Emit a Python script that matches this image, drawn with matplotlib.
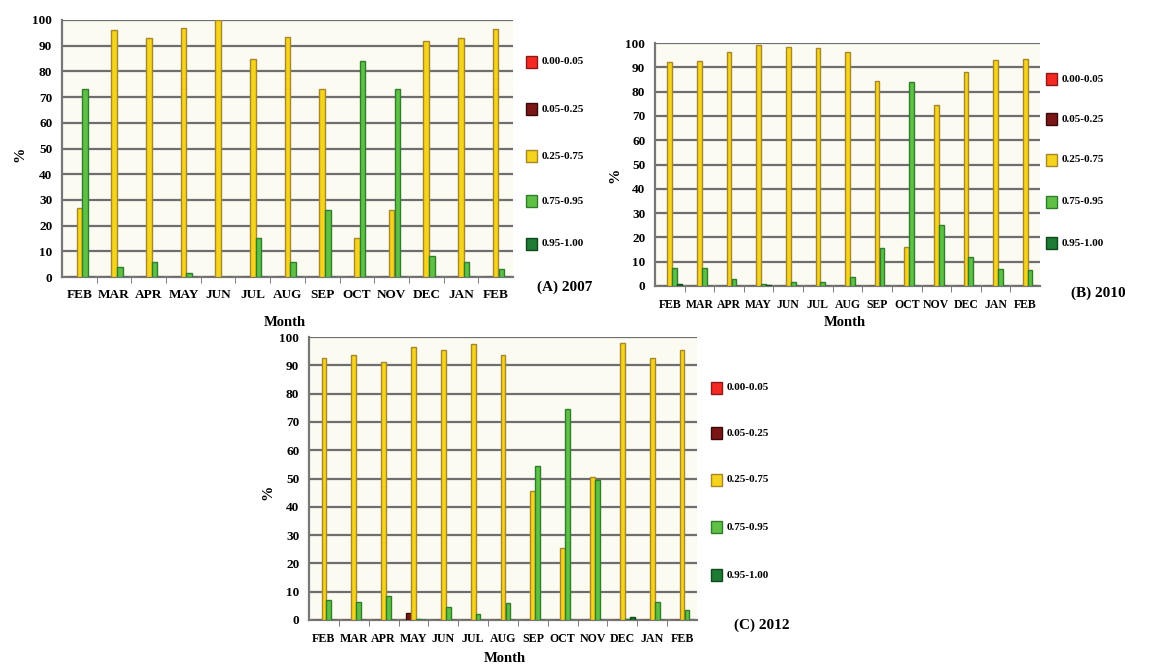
import matplotlib
matplotlib.use("Agg")
import matplotlib.pyplot as plt
import numpy as np

plt.rcParams['font.family'] = ['Liberation Serif', 'DejaVu Serif']
plt.rcParams['font.weight'] = 'bold'

months = ['FEB', 'MAR', 'APR', 'MAY', 'JUN', 'JUL', 'AUG', 'SEP', 'OCT', 'NOV', 'DEC', 'JAN', 'FEB']
classes = ['0.00-0.05', '0.05-0.25', '0.25-0.75', '0.75-0.95', '0.95-1.00']

# (A) 2007
a_red = [0] * 13
a_dred = [0] * 13
a_yel = [27, 96, 93, 97, 100, 85, 93.5, 73, 15, 26, 92, 93, 96.5]
a_lgr = [73, 4, 6, 1.5, 0, 15, 6, 26, 84, 73, 8, 6, 3]
a_dgr = [0] * 13

# (B) 2010
b_red = [0] * 13
b_dred = [0] * 13
b_yel = [92, 92.5, 96.5, 99, 98.5, 98, 96.5, 84.5, 16, 74.5, 88, 93, 93.5]
b_lgr = [7.5, 7.5, 3, 1, 1.5, 1.8, 3.5, 15.5, 84, 25, 12, 7, 6.5]
b_dgr = [1, 0, 0, 0.5, 0, 0, 0, 0, 0, 0, 0, 0, 0]

# (C) 2012
c_red = [0] * 13
c_dred = [0, 0, 0, 2.5, 0, 0, 0, 0, 0, 0, 0, 0, 0]
c_yel = [92.5, 93.5, 91, 96.5, 95.5, 97.5, 93.5, 45.5, 25.5, 50.5, 98, 92.5, 95.5]
c_lgr = [7, 6.5, 8.5, 0.5, 4.5, 2, 6, 54.5, 74.5, 49.5, 0.5, 6.5, 3.5]
c_dgr = [0, 0, 0, 0, 0, 0, 0, 0, 0, 0, 1, 0, 0]

faces = ['#f42a22', '#7a1616', '#f4d41c', '#5fc045', '#1f7a34']
edges = ['#8a1a1a', '#3a0a0a', '#a8862a', '#2f7f2a', '#0f4a1c']

W, H = 1169, 666
fig = plt.figure(figsize=(W / 100, H / 100), dpi=100)
fig.patch.set_facecolor('white')


def fx(px):
    return px / W


def fy(py):
    return 1 - py / H


def panel(box, series, title, month_xy, pct_xy, leg_x, leg_ys, title_xy, tfs):
    x0, x1, ytop, ybot = box
    ax = fig.add_axes([fx(x0), fy(ybot), fx(x1 - x0), (ybot - ytop) / H])
    ax.set_facecolor('#fcfbf2')
    x = np.arange(len(months))
    for i, vals in enumerate(series):
        ax.bar(x + (i - 2) * 0.165, vals, width=0.16, color=faces[i],
               edgecolor=edges[i], linewidth=1.0, zorder=3)
    ax.set_xlim(-0.5, len(months) - 0.5)
    ax.set_ylim(0, 100)
    ax.set_yticks(range(0, 101, 10))
    ax.yaxis.grid(True, color='#6e6e6e', linewidth=1.6, zorder=1)
    ax.set_axisbelow(True)
    ax.set_xticks(x)
    ax.set_xticklabels(months, fontsize=tfs, fontweight='bold')
    ax.set_xticks(np.arange(0.5, len(months) - 0.5, 1), minor=True)
    ax.tick_params(axis='x', which='major', length=0, pad=9)
    ax.tick_params(axis='x', which='minor', length=4, color='#666666')
    ax.tick_params(axis='y', length=0, pad=7, labelsize=9.5)
    for lab in ax.get_yticklabels():
        lab.set_fontweight('bold')
    for s in ['top', 'right']:
        ax.spines[s].set_visible(False)
    for s in ['left', 'bottom']:
        ax.spines[s].set_color('#777777')
        ax.spines[s].set_linewidth(1.6)
    fig.text(fx(month_xy[0]), fy(month_xy[1]), 'Month', ha='center', va='center',
             fontsize=10.5, fontweight='bold')
    fig.text(fx(pct_xy[0]), fy(pct_xy[1]), '%', ha='center', va='center',
             fontsize=11, fontweight='bold', rotation=90)
    for i, lab in enumerate(classes):
        yc = leg_ys[i]
        fig.patches.append(plt.Rectangle((fx(leg_x), fy(yc + 6)), 11 / W, 12 / H,
                                         transform=fig.transFigure, facecolor=faces[i],
                                         edgecolor=edges[i], linewidth=1.0))
        fig.text(fx(leg_x + 16), fy(yc), lab, ha='left', va='center',
                 fontsize=8, fontweight='bold')
    fig.text(fx(title_xy[0]), fy(title_xy[1]), title, ha='center', va='center',
             fontsize=11, fontweight='bold')
    return ax


panel((62, 513, 20, 277), [a_red, a_dred, a_yel, a_lgr, a_dgr], '(A) 2007',
      (285, 322), (20, 154), 526, [62, 109, 156, 201, 244], (565, 287), 9.5)
panel((655, 1040, 43, 286), [b_red, b_dred, b_yel, b_lgr, b_dgr], '(B) 2010',
      (845, 323), (615, 175), 1046, [79, 119, 160, 202, 243], (1098, 293), 8.5)
panel((309, 697, 337, 620), [c_red, c_dred, c_yel, c_lgr, c_dgr], '(C) 2012',
      (505, 658), (268, 492), 711, [388, 433, 480, 527, 575], (762, 625), 8.6)

fig.savefig('out.png', dpi=100)
